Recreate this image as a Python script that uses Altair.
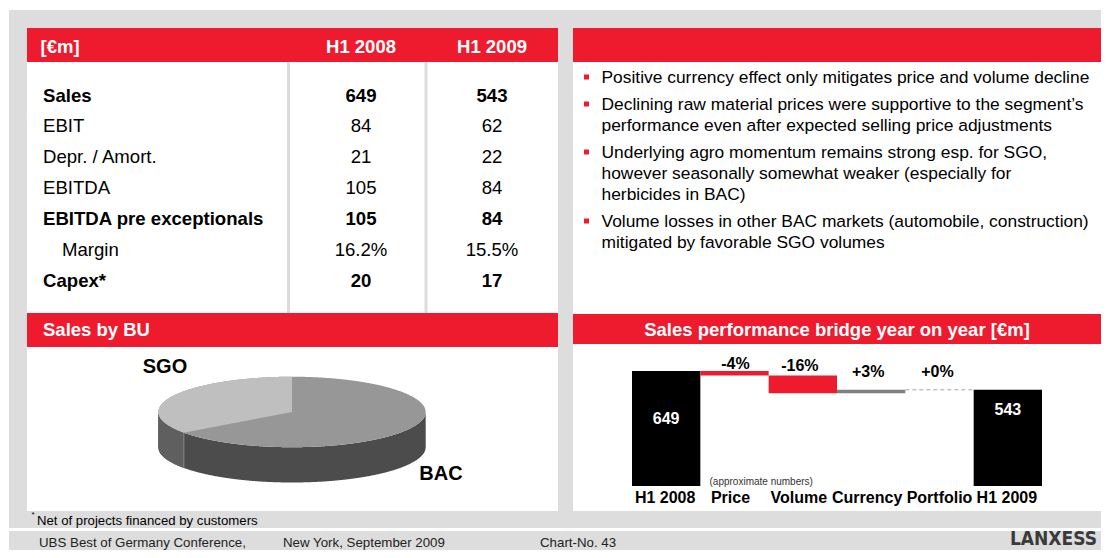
import altair as alt
import pandas as pd

# ------------------------------------------------------------------ data
row_labels = ["Sales", "EBIT", "Depr. / Amort.", "EBITDA",
              "EBITDA pre exceptionals", "Margin", "Capex*"]
h1_2008 = ["649", "84", "21", "105", "105", "16.2%", "20"]
h1_2009 = ["543", "62", "22", "84", "84", "15.5%", "17"]
bold_rows = ["Sales", "EBITDA pre exceptionals", "Capex*"]
indent_rows = ["Margin"]

bullets = [
    ["Positive currency effect only mitigates price and volume decline"],
    ["Declining raw material prices were supportive to the segment\u2019s",
     "performance even after expected selling price adjustments"],
    ["Underlying agro momentum remains strong esp. for SGO,",
     "however seasonally somewhat weaker (especially for",
     "herbicides in BAC)"],
    ["Volume losses in other BAC markets (automobile, construction)",
     "mitigated by favorable SGO volumes"],
]

bu_names = ["BAC", "SGO"]
bu_shares = [65, 35]

steps = ["H1 2008", "Price", "Volume", "Currency", "Portfolio", "H1 2009"]
step_values = [649, -25, -101, 20, 0, 543]
step_labels = ["649", "-4%", "-16%", "+3%", "+0%", "543"]

# ------------------------------------------------------------------ styles
FONT = "Liberation Sans"
RED = "#ee1b2e"
GREY_BG = "#dddddd"
OFF = 8  # page margin


def P(v):
    return v - OFF


dummy = pd.DataFrame({"a": [0]})


def R(x0, y0, x1, y1, color):
    return alt.Chart(dummy).mark_rect(color=color).encode(
        x=alt.value(P(x0)), x2=alt.value(P(x1)),
        y=alt.value(P(y0)), y2=alt.value(P(y1)))


def T(text, x, y, size=18, bold=False, color="black", align="left", font=FONT):
    return alt.Chart(dummy).mark_text(
        text=text, align=align, baseline="middle", fontSize=size,
        fontWeight="bold" if bold else "normal", color=color, font=font
    ).encode(x=alt.value(P(x)), y=alt.value(P(y)))


layers = []

# ------------------------------------------------------------------ slide frame
layers += [
    R(9, 10, 1120, 570, GREY_BG),
    R(9, 528, 1120, 531, "white"),
    # top-left table panel
    R(27, 28, 558, 62, RED),
    R(27, 62, 558, 313, "white"),
    R(287, 62, 290, 313, "#dcdcdc"),
    R(424.5, 62, 427.5, 313, "#dcdcdc"),
    # top-right bullet panel
    R(573, 28, 1105, 62, RED),
    R(573, 62, 1105, 314, "white"),
    # bottom-left pie panel
    R(27, 313, 558, 347, RED),
    R(27, 347, 558, 511, "white"),
    # bottom-right bridge panel
    R(573, 314, 1105, 344, RED),
    R(573, 344, 1105, 511, "white"),
]

# headers
HS = 18.5
layers += [
    T("[\u20acm]", 40.5, 47, HS, True, "white"),
    T("H1 2008", 361, 47, HS, True, "white", "center"),
    T("H1 2009", 492, 47, HS, True, "white", "center"),
    T("Sales by BU", 43, 329.5, HS, True, "white"),
    T("Sales performance bridge year on year [\u20acm]", 837, 329.5, HS, True, "white", "center"),
]

# ------------------------------------------------------------------ table
tbl = pd.DataFrame({
    "row": row_labels, "v08": h1_2008, "v09": h1_2009,
    "bold": [r in bold_rows for r in row_labels],
    "indent": [r in indent_rows for r in row_labels],
})
row_scale = alt.Scale(type="point", domain=row_labels, range=[P(95.5), P(280.5)], padding=0)


def table_text(field, x, align, bold, filt):
    return alt.Chart(tbl).transform_filter(filt).mark_text(
        align=align, baseline="middle", fontSize=18.6,
        fontWeight="bold" if bold else "normal", font=FONT, color="black"
    ).encode(
        x=alt.value(P(x)),
        y=alt.Y("row:N", scale=row_scale, axis=None),
        text=alt.Text(f"{field}:N"),
    )


layers += [
    table_text("row", 43, "left", True, "datum.bold"),
    table_text("row", 43, "left", False, "!datum.bold && !datum.indent"),
    table_text("row", 62, "left", False, "datum.indent"),
    table_text("v08", 361, "center", True, "datum.bold"),
    table_text("v08", 361, "center", False, "!datum.bold"),
    table_text("v09", 492, "center", True, "datum.bold"),
    table_text("v09", 492, "center", False, "!datum.bold"),
]

# ------------------------------------------------------------------ bullets
y = 78
for bullet in bullets:
    layers.append(R(584, y - 3.5, 589, y + 1.5, RED))
    for line in bullet:
        layers.append(T(line, 601.5, y, 17.4))
        y += 21
    y += 6

# ------------------------------------------------------------------ 3D pie
sgo_frac = bu_shares[bu_names.index("SGO")] / sum(bu_shares)
ang = f"(PI/2 + 2*PI*{sgo_frac})"
pu = f"cos{ang}"
pv = f"sin{ang}"

px = alt.Scale(domain=[-1, 1], range=[P(158.3), P(425.7)])
py = alt.Scale(domain=[-2, 1], range=[P(482.5), P(376.7)])

pie_base = alt.Chart(alt.sequence(0, 601, as_="i")).transform_calculate(
    u="-1 + 2*datum.i/600"
).transform_calculate(
    s="sqrt(max(0, 1 - datum.u*datum.u))",
    lower="-sqrt(max(0, 1 - datum.u*datum.u))",
    side="-sqrt(max(0, 1 - datum.u*datum.u)) - 1",
)


def pie_area(color, y_field, y2_field, filt=None, extra=None):
    c = pie_base
    if extra:
        c = c.transform_calculate(**extra)
    if filt:
        c = c.transform_filter(filt)
    return c.mark_area(color=color, orient="vertical").encode(
        x=alt.X("u:Q", scale=px, axis=None),
        y=alt.Y(f"{y_field}:Q", scale=py, axis=None),
        y2=alt.Y2(f"{y2_field}:Q"),
    )


layers += [
    pie_area("#4c4c4c", "lower", "side"),
    pie_area("#5f5f5f", "lower", "side", filt=f"datum.u <= {pu}"),
    pie_area("#979797", "s", "lower"),
    pie_area("#bfbfbf", "s", "sgo_low", filt="datum.u <= 0",
             extra={"sgo_low": f"datum.u < {pu} ? datum.lower : datum.u*({pv})/({pu})"}),
]
# divider on the side between the two slices
layers.append(
    alt.Chart(dummy).transform_calculate(
        bx=pu, by=pv, by2=f"{pv} - 1"
    ).mark_rule(color="#8a8a8a", strokeWidth=1).encode(
        x=alt.X("bx:Q", scale=px, axis=None),
        y=alt.Y("by:Q", scale=py, axis=None),
        y2="by2:Q",
    )
)
layers += [
    T(bu_names[1], 165, 367, 20, True, "black", "center"),
    T(bu_names[0], 441, 473.5, 20, True, "black", "center"),
]

# ------------------------------------------------------------------ waterfall
rows = []
level = 0
for i, (s, v, l) in enumerate(zip(steps, step_values, step_labels)):
    if i == 0 or i == len(steps) - 1:
        start, end, kind = 0, v, "total"
    else:
        start, end = level, level + v
        kind = "decrease" if v < 0 else ("increase" if v > 0 else "none")
    level = end
    rows.append(dict(step=s, idx=i, start=start, end=end,
                     top=max(start, end), kind=kind, label=l))
wf = pd.DataFrame(rows)

xs = alt.Scale(domain=[0, len(steps)], range=[P(632), P(1042)])
ys = alt.Scale(domain=[0, 649], range=[P(486), P(371)])

wf_base = alt.Chart(wf).transform_calculate(
    x2="datum.idx + 1", cx="datum.idx + 0.5"
)

layers.append(
    wf_base.transform_filter("datum.kind != 'none'").mark_rect().encode(
        x=alt.X("idx:Q", scale=xs, axis=None),
        x2="x2:Q",
        y=alt.Y("start:Q", scale=ys, axis=None),
        y2="end:Q",
        color=alt.Color("kind:N", legend=None,
                        scale=alt.Scale(domain=["total", "decrease", "increase"],
                                        range=["#000000", RED, "#808080"])),
    )
)
layers.append(
    wf_base.transform_filter("datum.kind == 'none'").mark_rule(
        color="#a6a6a6", strokeDash=[4, 3], strokeWidth=1
    ).encode(
        x=alt.X("idx:Q", scale=xs, axis=None),
        x2="x2:Q",
        y=alt.Y("end:Q", scale=ys, axis=None),
    )
)

label_dy = {"H1 2008": 48, "Price": -7, "Volume": -9,
            "Currency": -18, "Portfolio": -18, "H1 2009": 20}
label_dx = {"H1 2008": 0, "Price": 1, "Volume": -3,
            "Currency": -3, "Portfolio": -2, "H1 2009": 0}
for s in steps:
    is_total = s in (steps[0], steps[-1])
    layers.append(
        wf_base.transform_filter(alt.datum.step == s).mark_text(
            baseline="middle", align="center", fontSize=16, fontWeight="bold",
            font=FONT, color="white" if is_total else "black",
            dy=label_dy[s], dx=label_dx[s]
        ).encode(
            x=alt.X("cx:Q", scale=xs, axis=None),
            y=alt.Y("top:Q", scale=ys, axis=None),
            text="label:N",
        )
    )

cat_dx = {"H1 2008": -1, "Price": -4, "Volume": -4,
          "Currency": -4, "Portfolio": 0, "H1 2009": -1}
for s in steps:
    layers.append(
        wf_base.transform_filter(alt.datum.step == s).mark_text(
            baseline="middle", align="center", fontSize=16, fontWeight="bold",
            font=FONT, color="black", dx=cat_dx[s]
        ).encode(
            x=alt.X("cx:Q", scale=xs, axis=None),
            y=alt.value(P(498)),
            text="step:N",
        )
    )
layers.append(T("(approximate numbers)", 709.5, 482, 10, False, "#333333"))

# ------------------------------------------------------------------ footnote / footer
layers += [
    T("*", 31.5, 515, 8),
    T("Net of projects financed by customers", 37, 520.5, 13.2),
    T("UBS Best of Germany Conference,", 39, 542.5, 13.3, False, "#222222"),
    T("New York, September 2009", 283, 542.5, 13.3, False, "#222222"),
    T("Chart-No. 43", 540, 542.5, 13.3, False, "#222222"),
    T("LANXESS", 1097, 539, 19, True, "#3a3a3a", "right",
      "'Liberation Sans Narrow', 'DejaVu Sans Condensed', sans-serif"),
]

chart = alt.layer(*layers).resolve_scale(
    x="independent", y="independent", color="independent"
).properties(
    width=1093, height=542, padding=0, autosize="none", background="white"
).configure_view(stroke=None)

chart.save("out.html", embed_options={"renderer": "svg", "actions": False})
